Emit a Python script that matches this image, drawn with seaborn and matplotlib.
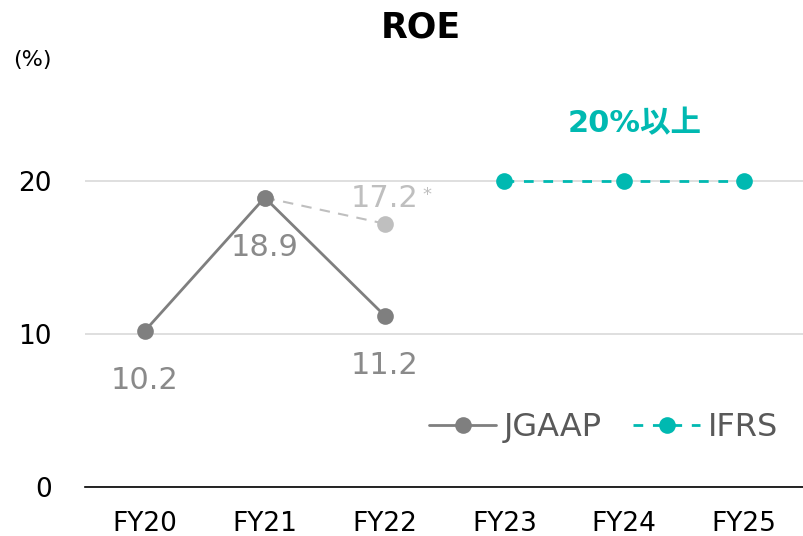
import numpy as np
import pandas as pd
import matplotlib
matplotlib.use("Agg")
import matplotlib.pyplot as plt
import seaborn as sns

# data
years = ["FY20", "FY21", "FY22", "FY23", "FY24", "FY25"]
jgaap_years = ["FY20", "FY21", "FY22"]
jgaap_roe = [10.2, 18.9, 11.2]
alt_years = ["FY21", "FY22"]
alt_roe = [18.9, 17.2]
ifrs_years = ["FY23", "FY24", "FY25"]
ifrs_roe = [20, 20, 20]
target_label = "20%以上"

GREY = "#7f7f7f"
LABEL_GREY = "#8a8a8a"
LIGHT = "#bfbfbf"
TEAL = "#00b9b1"

sns.set_style("white")
plt.rcParams["font.family"] = ["DejaVu Sans", "Noto Sans CJK JP"]

pos = {y: i for i, y in enumerate(years)}
jg = pd.DataFrame({"x": [pos[y] for y in jgaap_years], "roe": jgaap_roe})
al = pd.DataFrame({"x": [pos[y] for y in alt_years], "roe": alt_roe})
ifr = pd.DataFrame({"x": [pos[y] for y in ifrs_years], "roe": ifrs_roe})

fig = plt.figure(figsize=(8.04, 5.36), dpi=100)
ax = fig.add_axes([0.1057, 0.0914, 0.8943, 0.857])

sns.lineplot(data=al, x="x", y="roe", ax=ax, color=LIGHT, linestyle=(0, (5, 4)),
             linewidth=1.5, marker="o", markersize=12, markeredgewidth=0, zorder=2)
sns.lineplot(data=jg, x="x", y="roe", ax=ax, color=GREY, linewidth=2,
             marker="o", markersize=12, markeredgewidth=0, label="JGAAP", zorder=3)
sns.lineplot(data=ifr, x="x", y="roe", ax=ax, color=TEAL, linestyle=(0, (3.5, 3.5)),
             linewidth=2, marker="o", markersize=12, markeredgewidth=0, label="IFRS", zorder=3)

# data labels
ax.text(pos["FY20"], jgaap_roe[0] - 2.3, f"{jgaap_roe[0]:.1f}", ha="center", va="top",
        fontsize=22, color=LABEL_GREY)
ax.text(pos["FY21"], jgaap_roe[1] - 2.3, f"{jgaap_roe[1]:.1f}", ha="center", va="top",
        fontsize=22, color=LABEL_GREY)
ax.text(pos["FY22"], jgaap_roe[2] - 2.3, f"{jgaap_roe[2]:.1f}", ha="center", va="top",
        fontsize=22, color=LABEL_GREY)
ax.text(pos["FY22"], alt_roe[1] + 0.7, f"{alt_roe[1]:.1f}", ha="center", va="bottom",
        fontsize=22, color=LIGHT)
ax.text(pos["FY22"] + 0.32, 19.1, "*", ha="left", va="center",
        fontsize=13, color=LIGHT)
ax.text(pos["FY24"] + 0.09, 23.7, target_label, ha="center", va="center",
        fontsize=22, fontweight="bold", color=TEAL)

ax.set_xlim(-0.5, len(years) - 0.5)
ax.set_ylim(0, 30)
ax.set_xticks(range(len(years)))
ax.set_xticklabels(years)
ax.set_yticks([0, 10, 20])
ax.tick_params(axis="both", length=0, labelsize=19, colors="black")
ax.tick_params(axis="x", pad=17)
ax.tick_params(axis="y", pad=24)
ax.set_xlabel("")
ax.set_ylabel("")
ax.yaxis.grid(True, color="#d9d9d9", linewidth=1.2)
ax.set_axisbelow(True)
for s in ["top", "right", "left"]:
    ax.spines[s].set_visible(False)
ax.spines["bottom"].set_color("black")
ax.spines["bottom"].set_linewidth(1.2)
ax.spines["bottom"].set_zorder(5)

ax.legend(loc="center", bbox_to_anchor=(0.721, 0.13), ncol=2, frameon=False,
          fontsize=23, labelcolor="#595959", handlelength=2.1, columnspacing=1.0,
          handletextpad=0.22)

fig.text(0.523, 0.948, "ROE", ha="center", va="center", fontsize=25,
         fontweight="bold", color="black")
fig.text(0.04, 0.888, "(%)", ha="center", va="center", fontsize=16, color="black")

fig.savefig("out.png", dpi=100)
